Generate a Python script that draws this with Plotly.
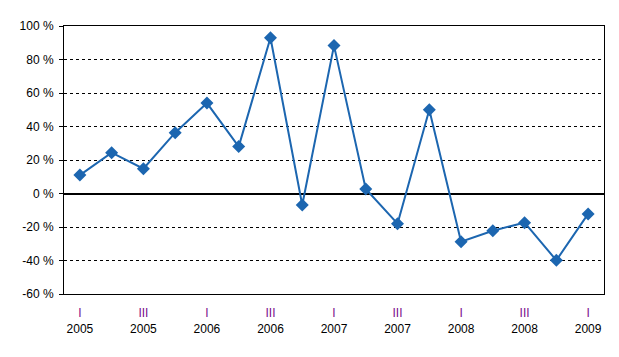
import plotly.graph_objects as go

quarters = ["I", "II", "III", "IV"]
years = [2005, 2006, 2007, 2008, 2009]
categories = [f"{q} {y}" for y in years for q in quarters][:17]
values = [11.0, 24.4, 14.8, 36.3, 54.0, 28.0, 93.0, -6.9, 88.3, 2.7,
          -18.0, 50.0, -28.8, -22.2, -17.4, -39.9, -12.2]
tick_cats = categories[::2]
tick_text = [f"<span style='color:#7A0C8C'>{c.split()[0]}</span><br>{c.split()[1]}" for c in tick_cats]
y_ticks = [-60, -40, -20, 0, 20, 40, 60, 80, 100]
y_text = [f"{v} %" for v in y_ticks]

fig = go.Figure()
fig.add_trace(go.Scatter(
    x=categories, y=values, mode="lines+markers",
    line=dict(color="#1C66B0", width=2),
    marker=dict(symbol="diamond", size=10, color="#1C66B0"),
    showlegend=False,
))

# page body has an 8px default margin, so margins are offset accordingly
fig.update_layout(
    width=619, height=357,
    margin=dict(l=56, r=23, t=18, b=71),
    paper_bgcolor="white", plot_bgcolor="white",
    font=dict(family="Liberation Sans, Arial, sans-serif", size=12, color="black"),
)
fig.update_xaxes(
    type="category", categoryorder="array", categoryarray=categories,
    range=[-0.5, 16.5],
    tickmode="array", tickvals=tick_cats, ticktext=tick_text,
    showgrid=False, ticks="", ticklen=0, ticklabelstandoff=8,
    showline=True, mirror=True, linecolor="black", linewidth=1,
    tickangle=0, automargin=False,
)
fig.update_yaxes(
    range=[-60, 100], tickmode="array", tickvals=y_ticks, ticktext=y_text,
    showgrid=True, gridcolor="black", gridwidth=1, griddash="dot",
    zeroline=True, zerolinecolor="black", zerolinewidth=2,
    showline=True, mirror=True, linecolor="black", linewidth=1,
    ticks="outside", ticklen=4, tickcolor="black", tickwidth=1,
    ticklabelstandoff=3, automargin=False,
)

fig.write_html("out.html")
